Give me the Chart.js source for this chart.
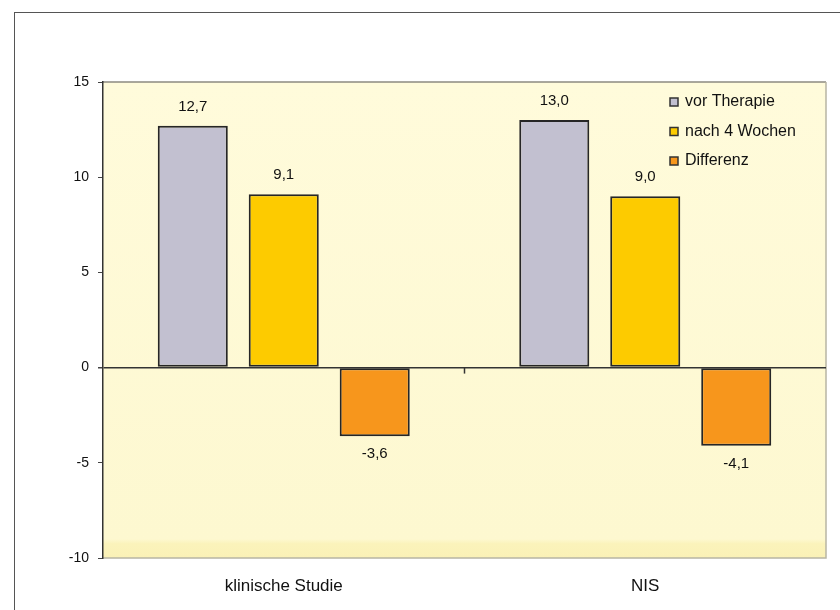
<!DOCTYPE html>
<html>
<head>
<meta charset="utf-8">
<script src="https://cdn.jsdelivr.net/npm/chart.js@4.4.0/dist/chart.umd.min.js"></script>
<style>
  body { margin: 0; background: #fff; }
  #wrap { position: relative; width: 840px; height: 610px; }
  #frame { position: absolute; left: 14px; top: 12px; width: 840px; height: 620px;
           border-top: 1px solid #555; border-left: 1px solid #555; }
  #graph { position: absolute; left: 0; top: 0; }
</style>
</head>
<body>
<div id="wrap">
  <div id="frame"></div>
  <canvas id="graph" width="840" height="610"></canvas>
</div>
<script>
// values
const categories = ["klinische Studie", "NIS"];
const vorTherapie = [12.7, 13.0];
const nach4Wochen = [9.1, 9.0];
const differenz = [-3.6, -4.1];
const seriesNames = ["vor Therapie", "nach 4 Wochen", "Differenz"];
const yTicks = [-10, -5, 0, 5, 10, 15];

const colors = ["#c2c0d0", "#fdcb00", "#f7961c"];

function komma(v) {
  return v.toFixed(1).replace(".", ",");
}

// yellow plot background + thin frame
const plotBg = {
  id: "plotBg",
  beforeDraw(chart) {
    const {ctx, chartArea: a} = chart;
    ctx.save();
    const g = ctx.createLinearGradient(0, a.top, 0, a.bottom);
    g.addColorStop(0, "#fffbdb");
    g.addColorStop(0.96, "#fdf8d0");
    g.addColorStop(0.97, "#fbf3bb");
    g.addColorStop(1, "#faf1b6");
    ctx.fillStyle = g;
    ctx.fillRect(a.left, a.top, a.right - a.left, a.bottom - a.top);
    ctx.lineWidth = 1.5;
    ctx.strokeStyle = "#8c8a80";
    ctx.beginPath();
    ctx.moveTo(a.left, a.top);
    ctx.lineTo(a.right, a.top);
    ctx.stroke();
    ctx.strokeStyle = "#b8b5a4";
    ctx.beginPath();
    ctx.moveTo(a.right, a.top);
    ctx.lineTo(a.right, a.bottom);
    ctx.lineTo(a.left, a.bottom);
    ctx.stroke();
    ctx.restore();
  }
};

// small tick marks between the categories, on the zero line
const zeroTicks = {
  id: "zeroTicks",
  afterDatasetsDraw(chart) {
    const {ctx, scales: {x, y}} = chart;
    const y0 = y.getPixelForValue(0);
    ctx.save();
    ctx.strokeStyle = "#333";
    ctx.lineWidth = 1.5;
    for (let i = 0; i < categories.length - 1; i++) {
      const xb = (x.getPixelForValue(i) + x.getPixelForValue(i + 1)) / 2;
      ctx.beginPath();
      ctx.moveTo(xb, y0);
      ctx.lineTo(xb, y0 + 6);
      ctx.stroke();
    }
    ctx.restore();
  }
};

// value labels above / below each bar
const valueLabels = {
  id: "valueLabels",
  afterDatasetsDraw(chart) {
    const ctx = chart.ctx;
    ctx.save();
    ctx.font = "15px 'Liberation Sans', Arial, sans-serif";
    ctx.fillStyle = "#111";
    ctx.textAlign = "center";
    ctx.textBaseline = "middle";
    chart.data.datasets.forEach((ds, di) => {
      chart.getDatasetMeta(di).data.forEach((bar, i) => {
        const v = ds.data[i];
        const ty = v >= 0 ? bar.y - 19 : bar.y + 18;
        ctx.fillText(komma(v), bar.x, ty);
      });
    });
    ctx.restore();
  }
};

// legend inside the plot, top right
const innerLegend = {
  id: "innerLegend",
  afterDraw(chart) {
    const {ctx, chartArea: a} = chart;
    ctx.save();
    ctx.font = "16px 'Liberation Sans', Arial, sans-serif";
    ctx.textBaseline = "middle";
    chart.data.datasets.forEach((ds, i) => {
      const sx = a.right - 156;
      const sy = a.top + 20 + i * 29.5;
      ctx.fillStyle = ds.backgroundColor;
      ctx.fillRect(sx, sy - 4, 8, 8);
      ctx.strokeStyle = "#333";
      ctx.lineWidth = 1.5;
      ctx.strokeRect(sx, sy - 4, 8, 8);
      ctx.fillStyle = "#111";
      ctx.fillText(ds.label, sx + 15, sy);
    });
    ctx.restore();
  }
};

const graph = document.getElementById("graph");
const graphChart = new Chart(graph, {
  type: "bar",
  data: {
    labels: categories,
    datasets: [
      { label: seriesNames[0], data: vorTherapie, backgroundColor: colors[0] },
      { label: seriesNames[1], data: nach4Wochen, backgroundColor: colors[1] },
      { label: seriesNames[2], data: differenz, backgroundColor: colors[2] }
    ]
  },
  options: {
    responsive: false,
    animation: false,
    layout: { padding: { top: 82, right: 14, left: 0, bottom: 0 } },
    datasets: {
      bar: {
        categoryPercentage: 0.755,
        barPercentage: 0.77,
        borderColor: "#262626",
        borderWidth: 2,
        borderSkipped: false
      }
    },
    plugins: {
      legend: { display: false },
      tooltip: { enabled: false }
    },
    scales: {
      x: {
        grid: { display: false, drawTicks: false },
        border: { display: false },
        ticks: {
          padding: 18,
          color: "#111",
          font: { family: "'Liberation Sans', Arial, sans-serif", size: 17 }
        },
        afterFit(scale) { scale.height = 52; }
      },
      y: {
        min: yTicks[0],
        max: yTicks[yTicks.length - 1],
        afterBuildTicks(scale) { scale.ticks = yTicks.map(v => ({ value: v })); },
        grid: {
          color: c => (c.tick && c.tick.value === 0 ? "#333" : "rgba(0,0,0,0)"),
          lineWidth: c => (c.tick && c.tick.value === 0 ? 1.5 : 1),
          tickColor: "#444",
          tickLength: 5
        },
        border: { display: true, color: "#333", width: 1.5 },
        ticks: {
          padding: 9,
          color: "#111",
          font: { family: "'Liberation Sans', Arial, sans-serif", size: 14 }
        },
        afterFit(scale) { scale.width = 103; }
      }
    }
  },
  plugins: [plotBg, zeroTicks, valueLabels, innerLegend]
});
</script>
</body>
</html>
